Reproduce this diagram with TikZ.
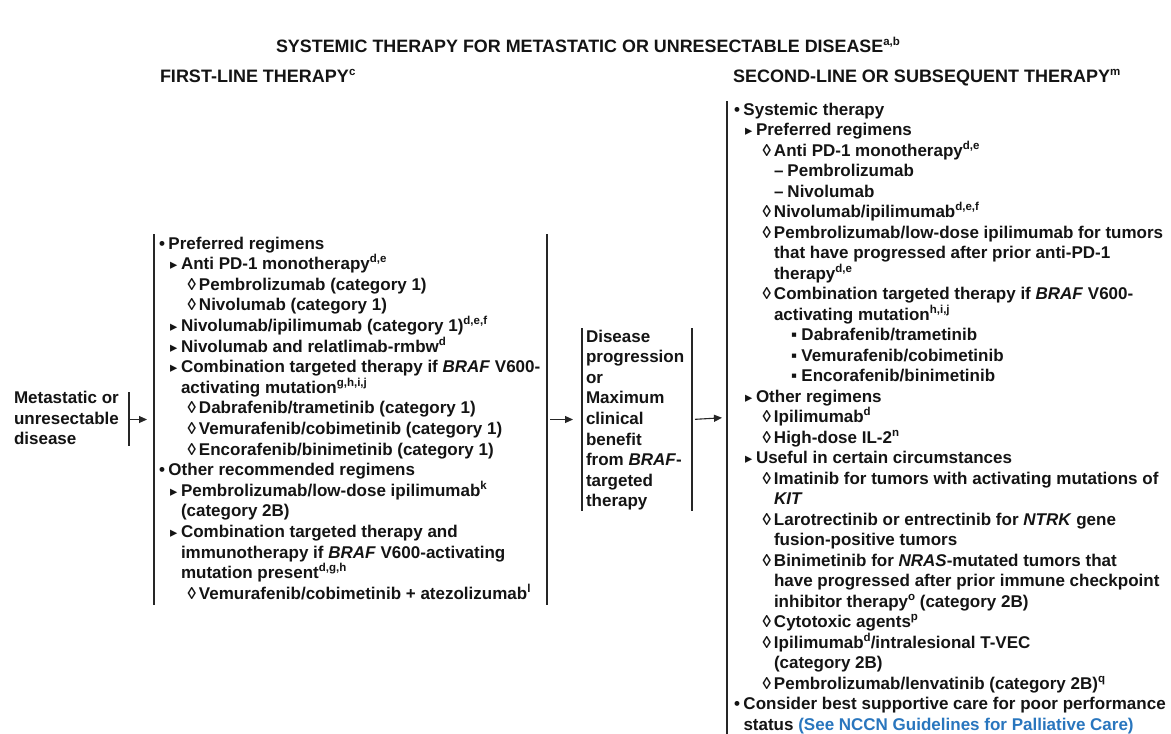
\documentclass[tikz,border=0pt]{standalone}
\usepackage{fontspec}
\setmainfont{Liberation Sans}
\newfontfamily\djv{DejaVu Sans}
\usetikzlibrary{arrows.meta}
\definecolor{linkblue}{RGB}{41,118,190}
\definecolor{ink}{RGB}{20,20,20}
\newcommand{\sps}[1]{\raisebox{7pt}{\fontsize{11.5}{12}\selectfont #1}}
\newcommand{\tri}{{\djv\fontsize{14.5}{14}\selectfont ▸}}
\newcommand{\lvA}[1]{\makebox[9.5pt][l]{•}#1}
\newcommand{\lvAc}[1]{\hspace*{9.5pt}#1}
\newcommand{\lvB}[1]{\hspace*{11pt}\makebox[11pt][l]{\tri}#1}
\newcommand{\lvBc}[1]{\hspace*{22pt}#1}
\newcommand{\lvC}[1]{\hspace*{28.5pt}\makebox[11.5pt][l]{◊}#1}
\newcommand{\lvCc}[1]{\hspace*{40pt}#1}
\newcommand{\lvD}[1]{\hspace*{40pt}\makebox[13.5pt][l]{–}#1}
\newcommand{\lvE}[1]{\hspace*{57pt}\makebox[10.5pt][l]{▪}#1}
\newcommand{\fl}{\rule{0pt}{13pt}}
\begin{document}
\begin{tikzpicture}[x=1pt,y=-1pt,
  txt/.style={inner sep=0pt, outer sep=0pt, align=left, anchor=north west, text=ink,
    font=\bfseries\fontsize{17}{20.6}\selectfont},
  head/.style={inner sep=0pt, outer sep=0pt, anchor=base west, text=ink,
    font=\bfseries\fontsize{18}{20}\selectfont},
  frame/.style={draw=none, inner sep=0pt, outer sep=0pt, rectangle},
  vline/.style={line width=1.1pt, draw=black!85},
  arr/.style={line width=1.1pt, draw=black!85, -{Triangle[length=8pt,width=7pt]}}]
\fill[white] (0,0) rectangle (1171,734);
\useasboundingbox (0,0) rectangle (1171,734);

% headings
\node[head, anchor=base, font=\bfseries\fontsize{17.9}{20}\selectfont] (title) at (588,52.5) {SYSTEMIC THERAPY FOR METASTATIC OR UNRESECTABLE DISEASE\sps{a,b}};
\node[head] (h1) at (160,82) {FIRST-LINE THERAPY\sps{c}};
\node[head] (h2) at (733,82) {SECOND-LINE OR SUBSEQUENT THERAPY\sps{m}};

% frames
\node[frame, minimum width=393pt, minimum height=371pt] (lbox) at (350.5,419.5) {};
\node[frame, minimum width=110pt, minimum height=183pt] (mbox) at (637,419.5) {};
\node[frame, minimum width=444pt, minimum height=633pt] (rbox) at (949,417.5) {};
\coordinate (brkT) at (129,392);
\coordinate (brkB) at (129,446);
\coordinate (brk) at (129,419.5);

\draw[vline] (brkT) -- (brkB);
\draw[vline] (lbox.north west) -- (lbox.south west);
\draw[vline] (lbox.north east) -- (lbox.south east);
\draw[vline] (mbox.north west) -- (mbox.south west);
\draw[vline] (mbox.north east) -- (mbox.south east);
\draw[vline] (rbox.north west) -- (rbox.south west);

\draw[arr, shorten <=1pt, shorten >=7pt] (brk) -- (lbox.west);
\draw[arr, shorten <=3pt, shorten >=9pt] (lbox.east) -- (mbox.west);
\draw[arr, shorten <=3pt, shorten >=5pt] (mbox.east) -- (rbox.west);

% left node
\node[txt] (meta) at (14,390.4) {\fl Metastatic or\\unresectable\\disease};

% first-line box
\node[txt] (ltxt) at (159,236) {\fl\lvA{Preferred regimens}\\
\lvB{Anti PD-1 monotherapy\sps{d,e}}\\
\lvC{Pembrolizumab (category 1)}\\
\lvC{Nivolumab (category 1)}\\
\lvB{Nivolumab/ipilimumab (category 1)\sps{d,e,f}}\\
\lvB{Nivolumab and relatlimab-rmbw\sps{d}}\\
\lvB{Combination targeted therapy if \textit{BRAF} V600-}\\
\lvBc{activating mutation\sps{g,h,i,j}}\\
\lvC{Dabrafenib/trametinib (category 1)}\\
\lvC{Vemurafenib/cobimetinib (category 1)}\\
\lvC{Encorafenib/binimetinib (category 1)}\\
\lvA{Other recommended regimens}\\
\lvB{Pembrolizumab/low-dose ipilimumab\sps{k}}\\
\lvBc{(category 2B)}\\
\lvB{Combination targeted therapy and}\\
\lvBc{immunotherapy if \textit{BRAF} V600-activating}\\
\lvBc{mutation present\sps{d,g,h}}\\
\lvC{Vemurafenib/cobimetinib + atezolizumab\sps{l}}};

% middle box
\node[txt] (mtxt) at (586,329) {\fl Disease\\progression\\or\\Maximum\\clinical\\benefit\\from \textit{BRAF}-\\targeted\\therapy};

% second-line box
\node[txt, font=\bfseries\fontsize{17}{20.5}\selectfont] (rtxt) at (734,102) {\fl\lvA{Systemic therapy}\\
\lvB{Preferred regimens}\\
\lvC{Anti PD-1 monotherapy\sps{d,e}}\\
\lvD{Pembrolizumab}\\
\lvD{Nivolumab}\\
\lvC{Nivolumab/ipilimumab\sps{d,e,f}}\\
\lvC{Pembrolizumab/low-dose ipilimumab for tumors}\\
\lvCc{that have progressed after prior anti-PD-1}\\
\lvCc{therapy\sps{d,e}}\\
\lvC{Combination targeted therapy if \textit{BRAF} V600-}\\
\lvCc{activating mutation\sps{h,i,j}}\\
\lvE{Dabrafenib/trametinib}\\
\lvE{Vemurafenib/cobimetinib}\\
\lvE{Encorafenib/binimetinib}\\
\lvB{Other regimens}\\
\lvC{Ipilimumab\sps{d}}\\
\lvC{High-dose IL-2\sps{n}}\\
\lvB{Useful in certain circumstances}\\
\lvC{Imatinib for tumors with activating mutations of}\\
\lvCc{\textit{KIT}}\\
\lvC{Larotrectinib or entrectinib for \textit{NTRK} gene}\\
\lvCc{fusion-positive tumors}\\
\lvC{Binimetinib for \textit{NRAS}-mutated tumors that}\\
\lvCc{have progressed after prior immune checkpoint}\\
\lvCc{inhibitor therapy\sps{o} (category 2B)}\\
\lvC{Cytotoxic agents\sps{p}}\\
\lvC{Ipilimumab\sps{d}/intralesional T-VEC}\\
\lvCc{(category 2B)}\\
\lvC{Pembrolizumab/lenvatinib (category 2B)\sps{q}}\\
\lvA{Consider best supportive care for poor performance}\\
\lvAc{status {\color{linkblue}(See NCCN Guidelines for Palliative Care)}}};
\end{tikzpicture}
\end{document}
